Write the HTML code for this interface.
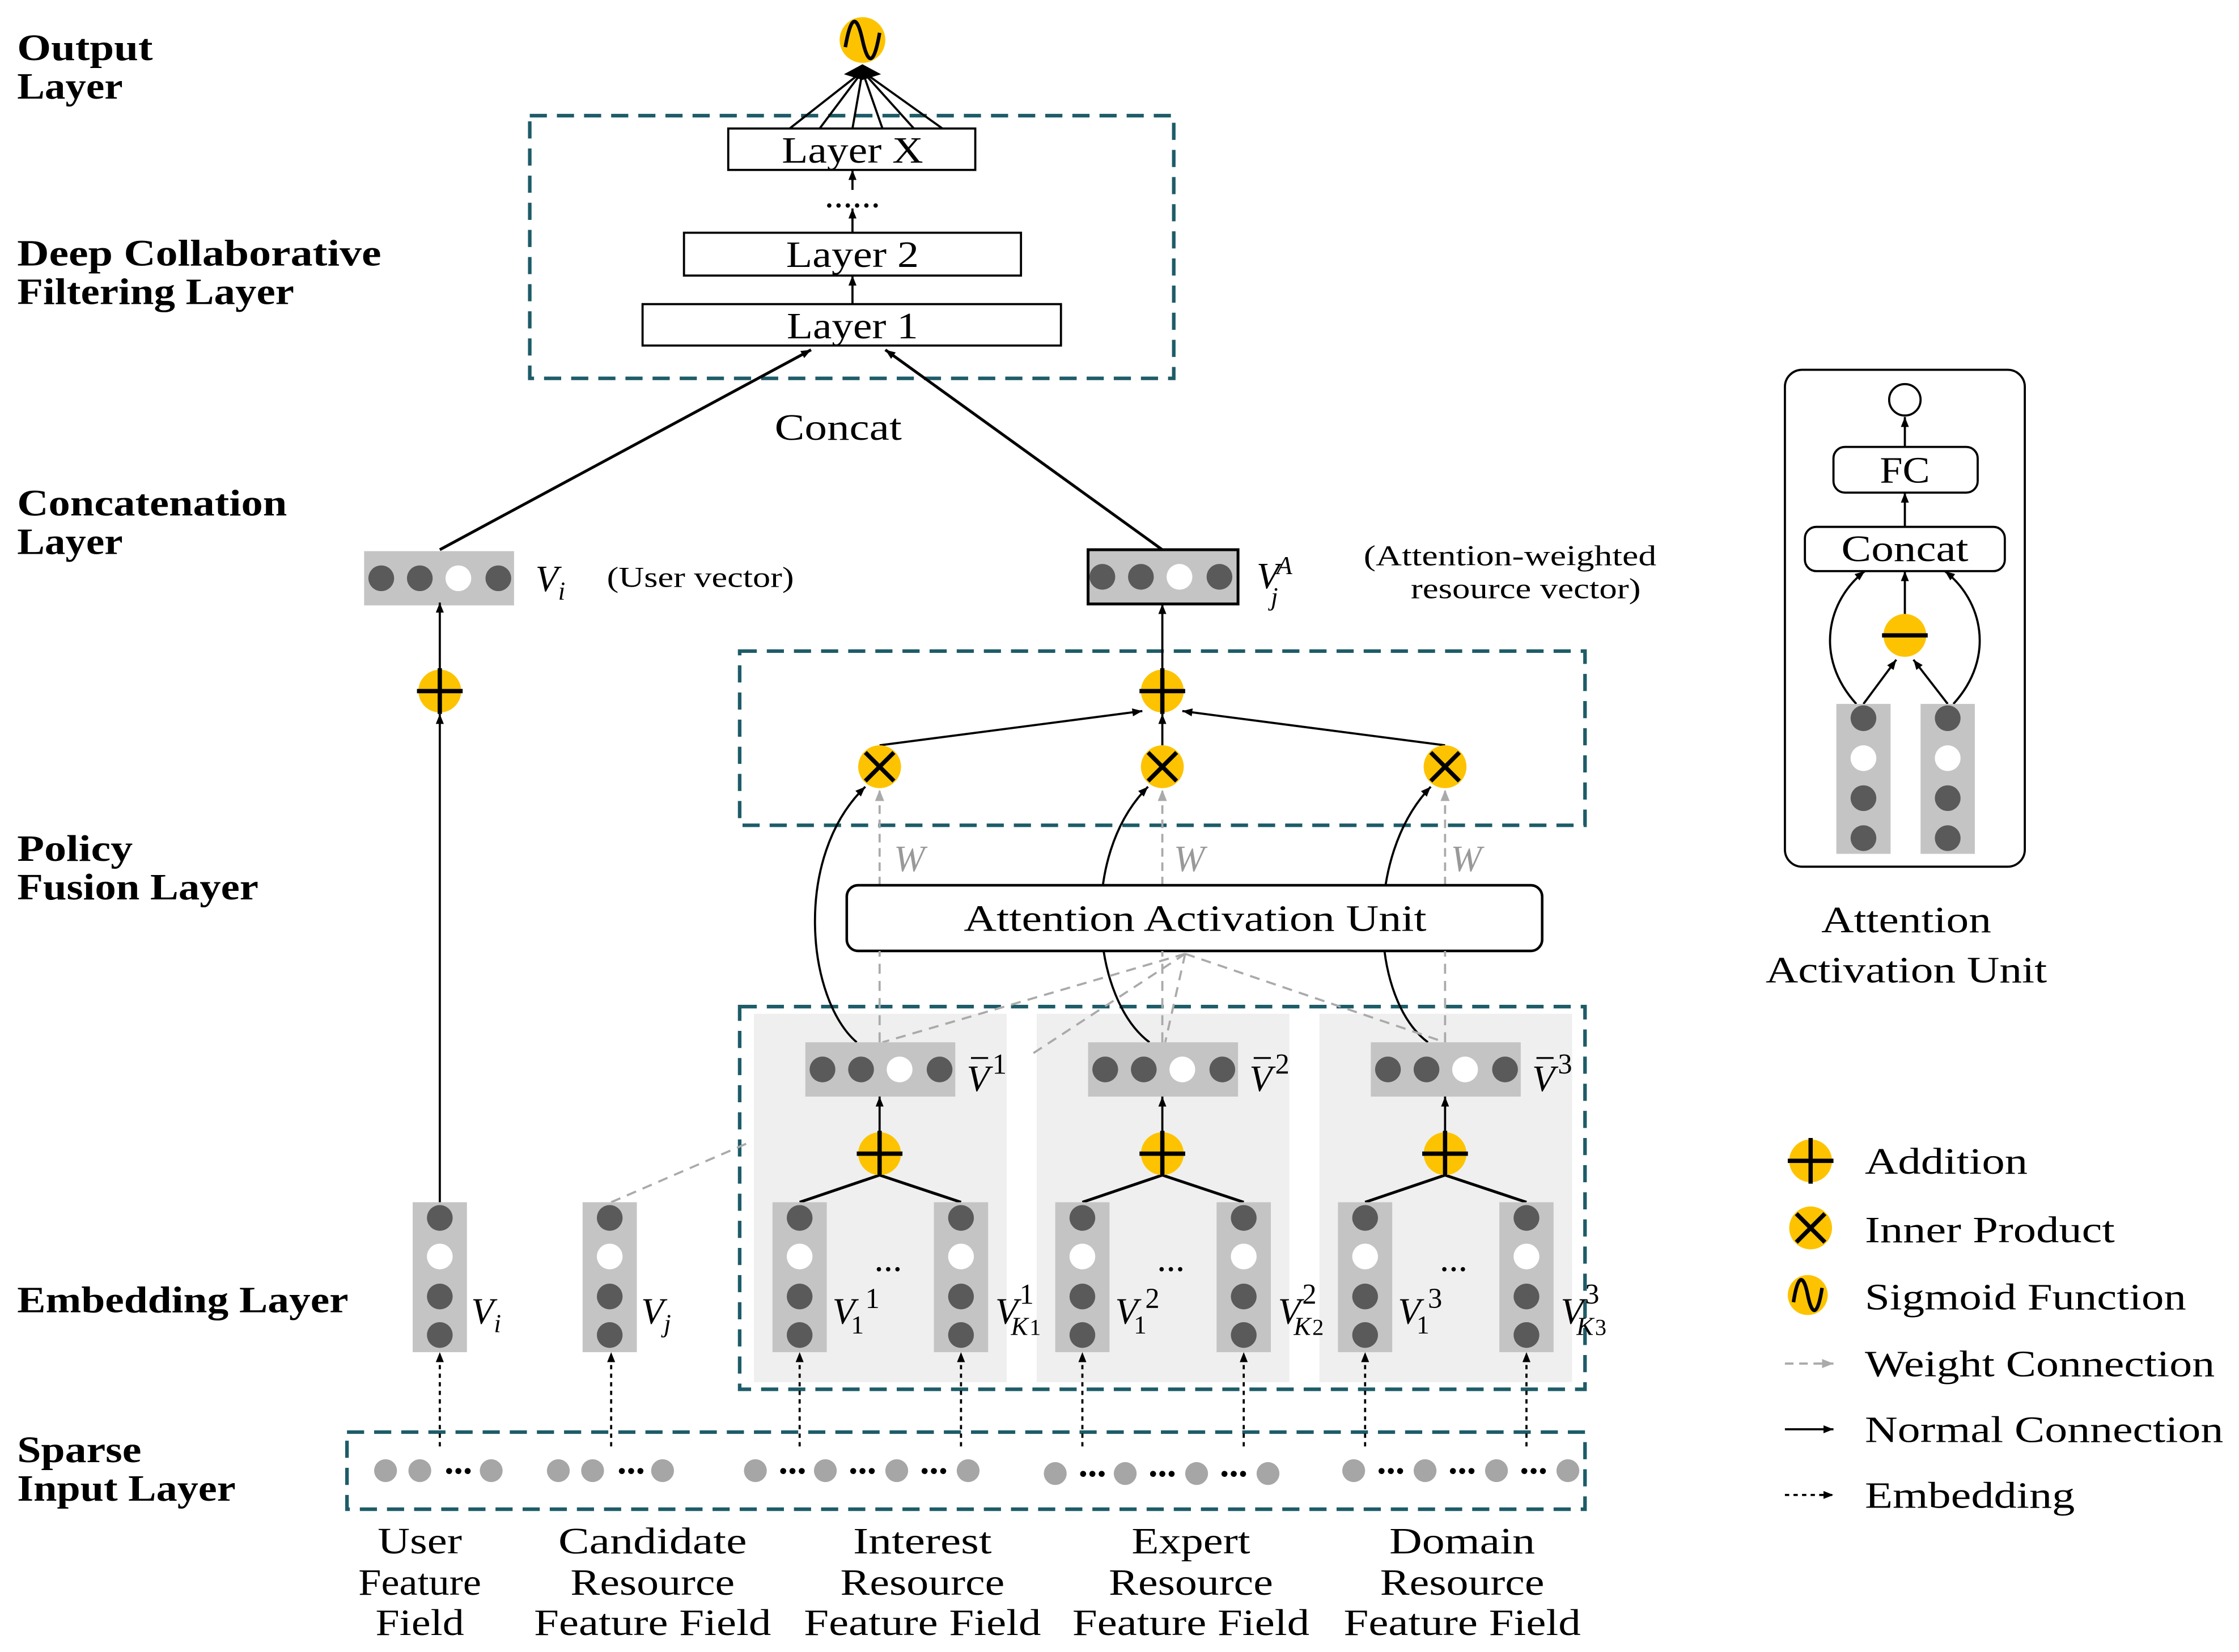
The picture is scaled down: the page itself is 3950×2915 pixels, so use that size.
<!DOCTYPE html>
<html><head><meta charset="utf-8"><style>html,body{margin:0;padding:0;background:#fff}svg{display:block}text{font-family:"Liberation Serif",serif}</style></head>
<body>
<svg width="3950" height="2915" viewBox="0 0 1568 1157" preserveAspectRatio="none" xmlns="http://www.w3.org/2000/svg">
<defs>
<marker id="a" viewBox="0 0 10 10" refX="10" refY="5" markerWidth="7" markerHeight="7" orient="auto-start-reverse" markerUnits="userSpaceOnUse"><path d="M0,1 L10,5 L0,9z" fill="#000"/></marker>
<marker id="g" viewBox="0 0 10 10" refX="10" refY="5" markerWidth="8" markerHeight="8" orient="auto" markerUnits="userSpaceOnUse"><path d="M0,1 L10,5 L0,9z" fill="#aaa"/></marker>
<g id="plus"><circle r="15" fill="#fdc300"/><path d="M-16,0H16M0,-16V16" stroke="#000" stroke-width="3"/></g>
<g id="cross"><circle r="15" fill="#fdc300"/><path d="M-10,-10L10,10M10,-10L-10,10" stroke="#000" stroke-width="3"/></g>
<g id="hv"><rect x="0" y="0" width="105" height="38" fill="#c4c4c4"/><circle cx="12" cy="19" r="9" fill="#5a5a5a"/><circle cx="39" cy="19" r="9" fill="#5a5a5a"/><circle cx="66" cy="19" r="9" fill="#fff"/><circle cx="94" cy="19" r="9" fill="#5a5a5a"/></g>
<g id="vv"><rect x="0" y="0" width="38" height="105" fill="#c4c4c4"/><circle cx="19" cy="11" r="9" fill="#5a5a5a"/><circle cx="19" cy="38" r="9" fill="#fff"/><circle cx="19" cy="66" r="9" fill="#5a5a5a"/><circle cx="19" cy="93" r="9" fill="#5a5a5a"/></g>
</defs>
<g font-weight="bold" font-size="26">
<text x="12" y="42" textLength="95" lengthAdjust="spacingAndGlyphs">Output</text><text x="12" y="69" textLength="74" lengthAdjust="spacingAndGlyphs">Layer</text>
<text x="12" y="186" textLength="255" lengthAdjust="spacingAndGlyphs">Deep Collaborative</text><text x="12" y="213" textLength="194" lengthAdjust="spacingAndGlyphs">Filtering Layer</text>
<text x="12" y="361" textLength="189" lengthAdjust="spacingAndGlyphs">Concatenation</text><text x="12" y="388" textLength="74" lengthAdjust="spacingAndGlyphs">Layer</text>
<text x="12" y="603" textLength="81" lengthAdjust="spacingAndGlyphs">Policy</text><text x="12" y="630" textLength="169" lengthAdjust="spacingAndGlyphs">Fusion Layer</text>
<text x="12" y="919" textLength="232" lengthAdjust="spacingAndGlyphs">Embedding Layer</text>
<text x="12" y="1024" textLength="87" lengthAdjust="spacingAndGlyphs">Sparse</text><text x="12" y="1051" textLength="153" lengthAdjust="spacingAndGlyphs">Input Layer</text>
</g>
<g fill="none" stroke="#1d5c68" stroke-width="2.5" stroke-dasharray="12,7">
<rect x="371" y="81" width="451" height="184"/>
<rect x="518" y="456" width="592" height="122"/>
<rect x="518" y="705" width="592" height="268"/>
<rect x="243" y="1003" width="867" height="54"/>
</g>
<g fill="#efefef"><rect x="528" y="710" width="177" height="258"/><rect x="726" y="710" width="177" height="258"/><rect x="924" y="710" width="177" height="258"/></g>
<g fill="#fff" stroke="#000" stroke-width="1.5"><rect x="510" y="90" width="173" height="29"/><rect x="479" y="163" width="236" height="30"/><rect x="450" y="213" width="293" height="29"/></g>
<g font-size="26" text-anchor="middle"><text x="597" y="114" textLength="99" lengthAdjust="spacingAndGlyphs">Layer X</text><text x="597" y="187" textLength="93" lengthAdjust="spacingAndGlyphs">Layer 2</text><text x="597" y="237" textLength="92" lengthAdjust="spacingAndGlyphs">Layer 1</text></g>
<text x="597" y="145" font-size="26" text-anchor="middle">......</text>
<g stroke="#000" stroke-width="1.5" marker-end="url(#a)"><line x1="597" y1="213" x2="597" y2="193"/><line x1="597" y1="163" x2="597" y2="146"/><line x1="597" y1="133" x2="597" y2="119"/></g>
<g stroke="#000" stroke-width="1.5"><line x1="553" y1="90" x2="604" y2="50"/><line x1="574" y1="90" x2="604" y2="50"/><line x1="597" y1="90" x2="604" y2="50"/><line x1="618" y1="90" x2="604" y2="50"/><line x1="640" y1="90" x2="604" y2="50"/><line x1="660" y1="90" x2="604" y2="50"/></g>
<path d="M591,52 L604,45 L617,52 L604,56z" fill="#000"/>
<circle cx="604" cy="28" r="16" fill="#fdc300"/><path d="M592,33 C596,10 600,10 604,28 C608,46 612,46 616,23" fill="none" stroke="#000" stroke-width="2.5"/>
<text x="587" y="308" font-size="26" text-anchor="middle" textLength="89" lengthAdjust="spacingAndGlyphs">Concat</text>
<g stroke="#000" stroke-width="2" marker-end="url(#a)"><line x1="308" y1="385" x2="568" y2="245"/><line x1="814" y1="385" x2="620" y2="245"/></g>
<use href="#hv" x="255" y="386"/>
<text x="375" y="414" font-size="26" font-style="italic">V<tspan font-size="18" dy="6">i</tspan></text>
<text x="425" y="411" font-size="20" textLength="131" lengthAdjust="spacingAndGlyphs">(User vector)</text>
<rect x="762" y="385" width="105" height="38" fill="#c4c4c4" stroke="#000" stroke-width="2"/>
<g fill="#5a5a5a"><circle cx="772" cy="404" r="9"/><circle cx="799" cy="404" r="9"/><circle cx="854" cy="404" r="9"/></g><circle cx="826" cy="404" r="9" fill="#fff"/>
<text x="880" y="412" font-size="26" font-style="italic">V</text><text x="894" y="402" font-size="18" font-style="italic">A</text><text x="890" y="424" font-size="18" font-style="italic">j</text>
<text x="955" y="396" font-size="20" textLength="205" lengthAdjust="spacingAndGlyphs">(Attention-weighted</text><text x="988" y="419" font-size="20" textLength="161" lengthAdjust="spacingAndGlyphs">resource vector)</text>
<line x1="308" y1="842" x2="308" y2="500" stroke="#000" stroke-width="1.5" marker-end="url(#a)"/>
<use href="#plus" x="308" y="484"/>
<line x1="308" y1="469" x2="308" y2="422" stroke="#000" stroke-width="1.5" marker-end="url(#a)"/>
<line x1="814" y1="469" x2="814" y2="423" stroke="#000" stroke-width="1.5" marker-end="url(#a)"/>
<g stroke="#000" stroke-width="1.5" marker-end="url(#a)"><line x1="616" y1="522" x2="800" y2="498"/><line x1="814" y1="522" x2="814" y2="500"/><line x1="1012" y1="522" x2="828" y2="498"/></g>
<use href="#plus" x="814" y="484"/>
<use href="#cross" x="616" y="537"/><use href="#cross" x="814" y="537"/><use href="#cross" x="1012" y="537"/>
<g stroke="#aaa" stroke-width="1.5" stroke-dasharray="6,4" marker-end="url(#g)"><line x1="616" y1="620" x2="616" y2="553"/><line x1="814" y1="620" x2="814" y2="553"/><line x1="1012" y1="620" x2="1012" y2="553"/></g>
<g font-size="26" font-style="italic" fill="#999"><text x="626" y="610">W</text><text x="822" y="610">W</text><text x="1016" y="610">W</text></g>
<g fill="none" stroke="#000" stroke-width="1.5" marker-end="url(#a)"><path d="M600,730 C565,700 555,600 606,551"/><path d="M805,730 C765,700 755,600 804,551"/><path d="M1000,730 C960,700 955,600 1002,551"/></g>
<rect x="593" y="620" width="487" height="46" rx="8" fill="#fff" stroke="#000" stroke-width="1.8"/>
<text x="837" y="652" font-size="26" text-anchor="middle" textLength="324" lengthAdjust="spacingAndGlyphs">Attention Activation Unit</text>
<g stroke="#aaa" stroke-width="1.5" stroke-dasharray="7,5" fill="none"><line x1="830" y1="668" x2="618" y2="730"/><line x1="830" y1="668" x2="720" y2="740"/><line x1="830" y1="668" x2="816" y2="730"/><line x1="830" y1="668" x2="1012" y2="730"/><line x1="428" y1="842" x2="525" y2="800"/><line x1="616" y1="730" x2="616" y2="666"/><line x1="814" y1="730" x2="814" y2="666"/><line x1="1012" y1="730" x2="1012" y2="666"/></g>
<g id="grp">
<use href="#hv" x="564" y="730"/>
<text x="677" y="764" font-size="26" font-style="italic">V</text><line x1="680" y1="741" x2="692" y2="741" stroke="#000" stroke-width="1.3"/>
<line x1="616" y1="793" x2="616" y2="768" stroke="#000" stroke-width="1.5" marker-end="url(#a)"/>
<g stroke="#000" stroke-width="2"><line x1="616" y1="823" x2="560" y2="842"/><line x1="616" y1="823" x2="673" y2="842"/></g>
<use href="#plus" x="616" y="808"/>
<use href="#vv" x="541" y="842"/><use href="#vv" x="654" y="842"/>
<text x="622" y="890" font-size="26" text-anchor="middle">...</text>
<text x="583" y="927" font-size="26" font-style="italic">V</text><text x="596" y="934" font-size="18">1</text>
<text x="697" y="927" font-size="26" font-style="italic">V</text><text x="708" y="935" font-size="18" font-style="italic">K</text>
</g>
<use href="#grp" x="198"/><use href="#grp" x="396"/>
<g font-size="20"><text x="695" y="752">1</text><text x="893" y="752">2</text><text x="1091" y="752">3</text>
<text x="606" y="916">1</text><text x="802" y="916">2</text><text x="1000" y="916">3</text>
<text x="714" y="913">1</text><text x="912" y="913">2</text><text x="1110" y="913">3</text>
<text x="721" y="935" font-size="16">1</text><text x="919" y="935" font-size="16">2</text><text x="1117" y="935" font-size="16">3</text></g>
<use href="#vv" x="289" y="842"/><use href="#vv" x="408" y="842"/>
<text x="330" y="927" font-size="26" font-style="italic">V<tspan font-size="18" dy="6">i</tspan></text>
<text x="449" y="927" font-size="26" font-style="italic">V<tspan font-size="18" dy="6">j</tspan></text>
<g stroke="#000" stroke-width="1.5" stroke-dasharray="3,3" marker-end="url(#a)">
<line x1="308" y1="1013" x2="308" y2="947"/><line x1="428" y1="1013" x2="428" y2="947"/><line x1="560" y1="1013" x2="560" y2="947"/><line x1="673" y1="1013" x2="673" y2="947"/><line x1="758" y1="1013" x2="758" y2="947"/><line x1="871" y1="1013" x2="871" y2="947"/><line x1="956" y1="1013" x2="956" y2="947"/><line x1="1069" y1="1013" x2="1069" y2="947"/></g>
<g fill="#a6a6a6"><circle cx="270" cy="1030" r="8"/><circle cx="294" cy="1030" r="8"/><circle cx="344" cy="1030" r="8"/><circle cx="391" cy="1030" r="8"/><circle cx="415" cy="1030" r="8"/><circle cx="464" cy="1030" r="8"/>
<circle cx="529" cy="1030" r="8"/><circle cx="578" cy="1030" r="8"/><circle cx="628" cy="1030" r="8"/><circle cx="678" cy="1030" r="8"/>
<circle cx="739" cy="1032" r="8"/><circle cx="788" cy="1032" r="8"/><circle cx="838" cy="1032" r="8"/><circle cx="888" cy="1032" r="8"/>
<circle cx="948" cy="1030" r="8"/><circle cx="998" cy="1030" r="8"/><circle cx="1048" cy="1030" r="8"/><circle cx="1098" cy="1030" r="8"/></g>
<g font-size="26" font-weight="bold" text-anchor="middle"><text x="321" y="1032">...</text><text x="442" y="1032">...</text><text x="555" y="1032">...</text><text x="604" y="1032">...</text><text x="654" y="1032">...</text><text x="765" y="1034">...</text><text x="814" y="1034">...</text><text x="864" y="1034">...</text><text x="974" y="1032">...</text><text x="1024" y="1032">...</text><text x="1074" y="1032">...</text></g>
<g font-size="26" text-anchor="middle">
<text x="294" y="1088" textLength="59" lengthAdjust="spacingAndGlyphs">User</text><text x="294" y="1117" textLength="86" lengthAdjust="spacingAndGlyphs">Feature</text><text x="294" y="1145" textLength="62" lengthAdjust="spacingAndGlyphs">Field</text>
<text x="457" y="1088" textLength="132" lengthAdjust="spacingAndGlyphs">Candidate</text><text x="457" y="1117" textLength="115" lengthAdjust="spacingAndGlyphs">Resource</text><text x="457" y="1145" textLength="166" lengthAdjust="spacingAndGlyphs">Feature Field</text>
<text x="646" y="1088" textLength="97" lengthAdjust="spacingAndGlyphs">Interest</text><text x="646" y="1117" textLength="115" lengthAdjust="spacingAndGlyphs">Resource</text><text x="646" y="1145" textLength="166" lengthAdjust="spacingAndGlyphs">Feature Field</text>
<text x="834" y="1088" textLength="83" lengthAdjust="spacingAndGlyphs">Expert</text><text x="834" y="1117" textLength="115" lengthAdjust="spacingAndGlyphs">Resource</text><text x="834" y="1145" textLength="166" lengthAdjust="spacingAndGlyphs">Feature Field</text>
<text x="1024" y="1088" textLength="102" lengthAdjust="spacingAndGlyphs">Domain</text><text x="1024" y="1117" textLength="115" lengthAdjust="spacingAndGlyphs">Resource</text><text x="1024" y="1145" textLength="166" lengthAdjust="spacingAndGlyphs">Feature Field</text>
</g>
<rect x="1250" y="259" width="168" height="348" rx="12" fill="#fff" stroke="#000" stroke-width="1.5"/>
<circle cx="1334" cy="280" r="11" fill="#fff" stroke="#000" stroke-width="1.5"/>
<rect x="1284" y="313" width="101" height="32" rx="8" fill="#fff" stroke="#000" stroke-width="1.5"/>
<text x="1334" y="338" font-size="26" text-anchor="middle" textLength="35" lengthAdjust="spacingAndGlyphs">FC</text>
<rect x="1264" y="369" width="140" height="31" rx="8" fill="#fff" stroke="#000" stroke-width="1.5"/>
<text x="1334" y="393" font-size="26" text-anchor="middle" textLength="89" lengthAdjust="spacingAndGlyphs">Concat</text>
<g stroke="#000" stroke-width="1.5" marker-end="url(#a)" fill="none"><line x1="1334" y1="313" x2="1334" y2="292"/><line x1="1334" y1="369" x2="1334" y2="345"/><line x1="1334" y1="430" x2="1334" y2="400"/>
<line x1="1305" y1="493" x2="1328" y2="462"/><line x1="1364" y1="493" x2="1340" y2="462"/>
<path d="M1300,493 C1270,460 1280,420 1306,400"/><path d="M1368,493 C1398,460 1388,420 1362,400"/></g>
<circle cx="1334" cy="445" r="15" fill="#fdc300"/><line x1="1318" y1="445" x2="1350" y2="445" stroke="#000" stroke-width="3"/>
<g><rect x="1286" y="493" width="38" height="105" fill="#c4c4c4"/><circle cx="1305" cy="503" r="9" fill="#5a5a5a"/><circle cx="1305" cy="531" r="9" fill="#fff"/><circle cx="1305" cy="559" r="9" fill="#5a5a5a"/><circle cx="1305" cy="587" r="9" fill="#5a5a5a"/>
<rect x="1345" y="493" width="38" height="105" fill="#c4c4c4"/><circle cx="1364" cy="503" r="9" fill="#5a5a5a"/><circle cx="1364" cy="531" r="9" fill="#fff"/><circle cx="1364" cy="559" r="9" fill="#5a5a5a"/><circle cx="1364" cy="587" r="9" fill="#5a5a5a"/></g>
<text x="1335" y="653" font-size="26" text-anchor="middle" textLength="119" lengthAdjust="spacingAndGlyphs">Attention</text><text x="1335" y="688" font-size="26" text-anchor="middle" textLength="197" lengthAdjust="spacingAndGlyphs">Activation Unit</text>
<use href="#plus" x="1268" y="813"/><use href="#cross" x="1268" y="860"/>
<circle cx="1266" cy="907" r="14" fill="#fdc300"/><path d="M1256,912 C1259,892 1263,892 1266,907 C1269,922 1273,922 1276,902" fill="none" stroke="#000" stroke-width="2.5"/>
<line x1="1250" y1="955" x2="1284" y2="955" stroke="#aaa" stroke-width="1.5" stroke-dasharray="6,4" marker-end="url(#g)"/>
<line x1="1250" y1="1001" x2="1284" y2="1001" stroke="#000" stroke-width="1.5" marker-end="url(#a)"/>
<line x1="1250" y1="1047" x2="1284" y2="1047" stroke="#000" stroke-width="1.5" stroke-dasharray="3,3" marker-end="url(#a)"/>
<g font-size="26"><text x="1306" y="822" textLength="114" lengthAdjust="spacingAndGlyphs">Addition</text><text x="1306" y="870" textLength="175" lengthAdjust="spacingAndGlyphs">Inner Product</text><text x="1306" y="917" textLength="225" lengthAdjust="spacingAndGlyphs">Sigmoid Function</text><text x="1306" y="964" textLength="245" lengthAdjust="spacingAndGlyphs">Weight Connection</text><text x="1306" y="1010" textLength="251" lengthAdjust="spacingAndGlyphs">Normal Connection</text><text x="1306" y="1056" textLength="147" lengthAdjust="spacingAndGlyphs">Embedding</text></g>
</svg>
</body></html>
